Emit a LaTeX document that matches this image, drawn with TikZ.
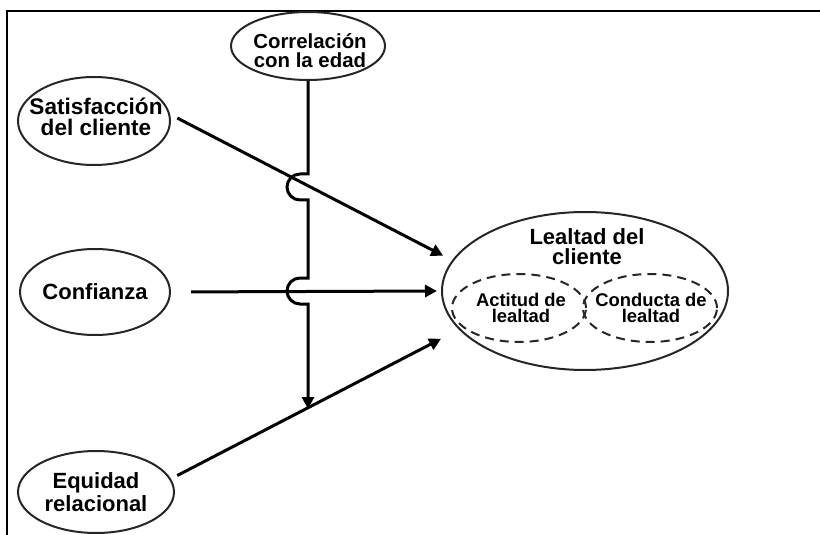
\documentclass[tikz,border=0pt]{standalone}
\usepackage{fontspec}
\setmainfont{Liberation Sans}
\usetikzlibrary{arrows.meta,shapes.geometric}

\begin{document}
\begin{tikzpicture}[x=0.5pt,y=-0.5pt,
  oval/.style={draw=black!85, line width=1pt, ellipse, inner sep=0pt},
  dashoval/.style={oval, dash pattern=on 4.5pt off 3pt},
  lbl/.style={align=center, inner sep=0pt,
    font=\bfseries\fontsize{11pt}{10pt}\selectfont},
  smalllbl/.style={lbl, font=\bfseries\fontsize{9.2pt}{7.8pt}\selectfont},
  link/.style={line width=1.5pt, draw=black},
  arr/.style={link, -{Triangle[length=6pt,width=6pt]}}
]
\useasboundingbox (0,0) rectangle (820,535);

% frame
\draw[line width=1.3pt] (7,535) -- (7,11) -- (820,11);

% source constructs
\node[oval, minimum width=77pt, minimum height=34pt] (corr) at (308,46) {};
\node[lbl, font=\bfseries\fontsize{10.2pt}{9.6pt}\selectfont] (corrT) at (310,51) {Correlación\\con la edad};

\node[oval, minimum width=76pt, minimum height=44pt] (sat) at (94,121) {};
\node[lbl, font=\bfseries\fontsize{11.3pt}{10.5pt}\selectfont] (satT) at (96,117) {Satisfacción\\del cliente};

\node[oval, minimum width=75pt, minimum height=43pt] (conf) at (95,292) {};
\node[lbl] (confT) at (95,292) {Confianza};

\node[oval, minimum width=78pt, minimum height=41pt] (eq) at (96,492) {};
\node[lbl] (eqT) at (96,492) {Equidad\\relacional};

% customer loyalty
\node[oval, minimum width=143pt, minimum height=79pt] (leal) at (585,291) {};
\node[lbl] (lealT) at (587,247) {Lealtad del\\cliente};
\node[dashoval, minimum width=67pt, minimum height=34pt] (act) at (519,308) {};
\node[smalllbl] (actT) at (521,308) {Actitud de\\lealtad};
\node[dashoval, minimum width=67pt, minimum height=34pt] (cond) at (650,308) {};
\node[smalllbl] (condT) at (651,308) {Conducta de\\lealtad};

% paths into loyalty
\draw[arr, shorten <=4pt, shorten >=5pt] (sat.5) -- (leal.167.8);
\draw[arr, shorten <=10pt, shorten >=2pt] (conf.east) -- (leal.west);
\draw[arr, shorten <=3.5pt, shorten >=10pt] (eq.10) -- (leal.197.5);

% age moderation line, hopping over the crossing paths
\coordinate (hit) at (308,409);
\draw[arr] (corr.south) -- (308,174) -- (300,174)
  .. controls (292.8,174) and (287,179.8) .. (287,187)
  .. controls (287,194.2) and (292.8,200) .. (300,200)
  -- (308,200) -- (308,278) -- (300,278)
  .. controls (292.8,278) and (287,283.8) .. (287,291)
  .. controls (287,298.2) and (292.8,304) .. (300,304)
  -- (308,304) -- (hit);
\end{tikzpicture}
\end{document}
